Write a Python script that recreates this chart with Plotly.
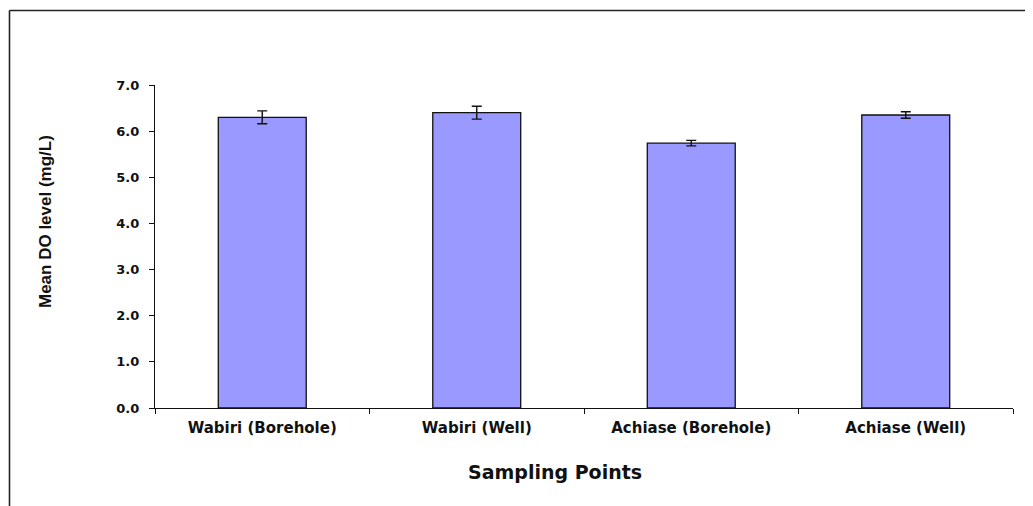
import plotly.graph_objects as go

categories = ["Wabiri (Borehole)", "Wabiri (Well)", "Achiase (Borehole)", "Achiase (Well)"]
mean_do = [6.30, 6.40, 5.74, 6.35]
err_do = [0.14, 0.14, 0.06, 0.07]
y_ticks = [0, 1, 2, 3, 4, 5, 6, 7]

# page offset (browser body margin)
OFF = 8
W, H = 1033 - OFF, 506 - OFF
L, R, T, B = 155 - OFF, 20, 85 - OFF, 98
pw, ph = W - L - R, H - T - B


def px_x(px):
    return (px - OFF - L) / pw


def px_y(py):
    return (H - B - (py - OFF)) / ph


fig = go.Figure()
fig.add_trace(go.Bar(
    x=categories,
    y=mean_do,
    width=0.41,
    marker=dict(color="#9999FF", line=dict(color="#111111", width=1.3)),
    error_y=dict(type="data", array=err_do, visible=True,
                 color="#111111", thickness=1.4, width=5),
))

tick_font = dict(family="DejaVu Sans", size=13, color="#111111", weight="bold")
fig.update_layout(
    width=W, height=H,
    margin=dict(l=L, r=R, t=T, b=B),
    paper_bgcolor="white", plot_bgcolor="white",
    showlegend=False,
    xaxis=dict(
        showline=True, linecolor="#111111", linewidth=1.3,
        ticks="outside", ticklen=5, tickcolor="#111111", tickwidth=1.2,
        tickson="boundaries", showgrid=False, zeroline=False,
        tickfont=dict(family="DejaVu Sans", size=15, color="#111111", weight="bold"),
        ticklabelstandoff=6,
    ),
    yaxis=dict(
        range=[0, 7], tickvals=y_ticks, tickformat=".1f",
        showline=True, linecolor="#111111", linewidth=1.3,
        ticks="outside", ticklen=5, tickcolor="#111111", tickwidth=1.2,
        showgrid=False, zeroline=False,
        tickfont=tick_font, ticklabelstandoff=7,
    ),
    annotations=[
        dict(text="Mean DO level (mg/L)", textangle=-90, showarrow=False,
             xref="paper", yref="paper", x=px_x(45), y=px_y(222),
             xanchor="center", yanchor="middle",
             font=dict(family="Liberation Sans Narrow, Arial Narrow, Liberation Sans",
                       size=17, color="#111111", weight="bold")),
        dict(text="Sampling Points", showarrow=False,
             xref="paper", yref="paper", x=px_x(555), y=px_y(472),
             xanchor="center", yanchor="middle",
             font=dict(family="DejaVu Sans", size=19, color="#111111", weight="bold")),
    ],
    shapes=[
        dict(type="line", xref="paper", yref="paper",
             x0=px_x(9.5), x1=px_x(1040), y0=px_y(10.5), y1=px_y(10.5),
             line=dict(color="#222222", width=1.6)),
        dict(type="line", xref="paper", yref="paper",
             x0=px_x(9.5), x1=px_x(9.5), y0=px_y(10.5), y1=px_y(512),
             line=dict(color="#222222", width=1.6)),
    ],
)

fig.write_html("out.html")
